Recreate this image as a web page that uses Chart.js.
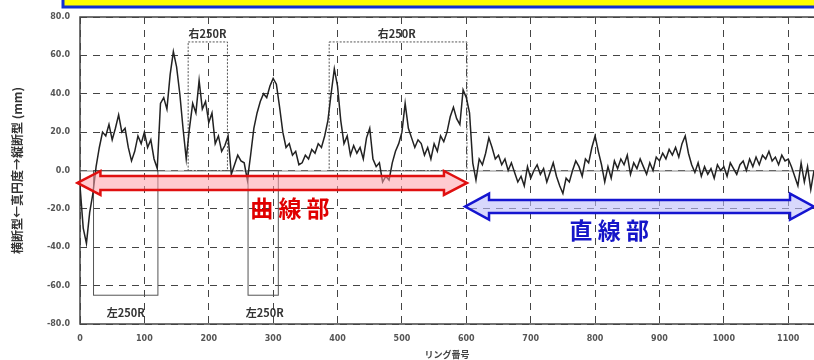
<!DOCTYPE html>
<html><head><meta charset="utf-8">
<script src="https://cdn.jsdelivr.net/npm/chart.js@4/dist/chart.umd.min.js"></script>
<style>html,body{margin:0;padding:0;background:#fff}#wrap{width:814px;height:360px;position:relative}</style>
</head><body><div id="wrap"><canvas id="c" width="814" height="360"></canvas></div>
<script>
const ringNo = [0,5,10,15,20,25,30,35,40,45,50,55,60,65,70,75,80,85,90,95,100,105,110,115,120,125,130,135,140,145,150,155,160,165,170,175,180,185,190,195,200,205,210,215,220,225,230,235,240,245,250,255,260,265,270,275,280,285,290,295,300,305,310,315,320,325,330,335,340,345,350,355,360,365,370,375,380,385,390,395,400,405,410,415,420,425,430,435,440,445,450,455,460,465,470,475,480,485,490,495,500,505,510,515,520,525,530,535,540,545,550,555,560,565,570,575,580,585,590,595,600,605,610,615,620,625,630,635,640,645,650,655,660,665,670,675,680,685,690,695,700,705,710,715,720,725,730,735,740,745,750,755,760,765,770,775,780,785,790,795,800,805,810,815,820,825,830,835,840,845,850,855,860,865,870,875,880,885,890,895,900,905,910,915,920,925,930,935,940,945,950,955,960,965,970,975,980,985,990,995,1000,1005,1010,1015,1020,1025,1030,1035,1040,1045,1050,1055,1060,1065,1070,1075,1080,1085,1090,1095,1100,1105,1110,1115,1120,1125,1130,1135,1140];
const roundness = [-8,-30,-38,-22,-12,2,12,20,18,24,16,22,29,20,22,12,5,10,18,14,20,12,16,6,1,35,38,32,50,62,54,40,22,6,22,35,30,47,32,36,25,30,14,18,10,13,18,-2,3,8,5,4,-5,8,22,30,36,40,38,44,48,45,33,20,12,14,8,10,3,4,8,6,11,9,14,12,18,26,40,53,44,26,14,18,8,13,9,12,6,17,22,6,2,4,-6,-3,-5,4,10,14,20,35,22,17,12,16,14,8,12,6,14,10,18,15,20,28,33,27,24,42,38,30,4,-5,6,3,9,17,12,6,8,3,6,0,4,-1,-6,-3,-8,2,-4,0,3,-2,1,-6,-1,4,-3,-8,-12,-4,-6,0,5,2,-3,6,4,12,18,10,3,-6,2,-4,5,1,6,3,8,-2,4,1,6,2,-2,4,0,7,5,9,6,11,8,12,7,14,18,9,3,-1,4,-3,2,-2,1,-4,3,0,2,-3,4,1,-2,3,5,0,6,2,7,3,8,6,10,5,7,3,8,5,6,2,-3,-8,4,-6,2,-10,0];
const yTicks = [-80,-60,-40,-20,0,20,40,60,80];
const xTicks = [0,100,200,300,400,500,600,700,800,900,1000,1100];
const yTitle = '横断型←真円度→縦断型 (mm)';
const xTitle = 'リング番号';
const curveLabel = '曲 線 部';
const straightLabel = '直 線 部';
const rightLabel = '右250R';
const leftLabel = '左250R';

const points = ringNo.map((r,i)=>({x:r,y:roundness[i]}));

const decor = {
  id:'decor',
  beforeDraw(chart){
    const ctx = chart.ctx;
    ctx.save();
    ctx.fillStyle='#ffff00';
    ctx.fillRect(63,-5,760,12);
    ctx.strokeStyle='#1030d0';
    ctx.lineWidth=3;
    ctx.strokeRect(63,-5,760,12);
    ctx.restore();
  },
  beforeDatasetsDraw(chart){
    const ctx=chart.ctx, xs=chart.scales.x, ys=chart.scales.y, a=chart.chartArea;
    ctx.save();
    ctx.strokeStyle='#888'; ctx.lineWidth=1;
    ctx.beginPath(); ctx.moveTo(a.left,ys.getPixelForValue(0)+0.5); ctx.lineTo(a.right,ys.getPixelForValue(0)+0.5); ctx.stroke();
    ctx.strokeStyle='#444'; ctx.lineWidth=1.5;
    ctx.beginPath();
    ctx.moveTo(a.right+2,a.top); ctx.lineTo(a.left,a.top); ctx.lineTo(a.left,a.bottom); ctx.lineTo(a.right+2,a.bottom);
    ctx.stroke();
    ctx.strokeStyle='#555'; ctx.lineWidth=1;
    const box=(x1,x2,y1,y2,dash)=>{
      ctx.setLineDash(dash);
      ctx.strokeRect(xs.getPixelForValue(x1),ys.getPixelForValue(y1),xs.getPixelForValue(x2)-xs.getPixelForValue(x1),ys.getPixelForValue(y2)-ys.getPixelForValue(y1));
    };
    box(168,229,67,0,[2,1.5]);
    box(387,601,67,0,[2,1.5]);
    box(21,121,0,-65,[]);
    box(261,308,0,-65,[]);
    ctx.setLineDash([]);
    ctx.fillStyle='#333';
    ctx.font='bold 11px "Noto Sans CJK JP"';
    ctx.textAlign='center'; ctx.textBaseline='middle';
    ctx.fillText(rightLabel,xs.getPixelForValue(198),ys.getPixelForValue(71));
    ctx.fillText(rightLabel,xs.getPixelForValue(492),ys.getPixelForValue(71));
    ctx.fillText(leftLabel,xs.getPixelForValue(71),ys.getPixelForValue(-74));
    ctx.fillText(leftLabel,xs.getPixelForValue(287),ys.getPixelForValue(-74));
    ctx.restore();
  },
  afterDatasetsDraw(chart){
    const ctx=chart.ctx, xs=chart.scales.x, ys=chart.scales.y;
    const arrow=(v1,v2,yv,sh,hh,hl,fill,stroke)=>{
      const x1=xs.getPixelForValue(v1), x2=xs.getPixelForValue(v2), yc=ys.getPixelForValue(yv);
      ctx.beginPath();
      ctx.moveTo(x1,yc); ctx.lineTo(x1+hl,yc-hh); ctx.lineTo(x1+hl,yc-sh); ctx.lineTo(x2-hl,yc-sh);
      ctx.lineTo(x2-hl,yc-hh); ctx.lineTo(x2,yc); ctx.lineTo(x2-hl,yc+hh); ctx.lineTo(x2-hl,yc+sh);
      ctx.lineTo(x1+hl,yc+sh); ctx.lineTo(x1+hl,yc+hh); ctx.closePath();
      ctx.fillStyle=fill; ctx.fill();
      ctx.strokeStyle=stroke; ctx.lineWidth=2.5; ctx.lineJoin='miter'; ctx.stroke();
    };
    ctx.save();
    arrow(-4,601,-6.5,7,12,23,'rgba(255,160,170,0.55)','#e01010');
    arrow(598,1140,-18.8,6.5,13,24,'rgba(190,190,250,0.6)','#1515d0');
    ctx.textAlign='center'; ctx.textBaseline='middle';
    ctx.font='bold 23px "Noto Sans CJK JP"';
    ctx.fillStyle='#e00000';
    ctx.fillText(curveLabel,xs.getPixelForValue(326),ys.getPixelForValue(-19.5));
    ctx.fillStyle='#1515c8';
    ctx.fillText(straightLabel,xs.getPixelForValue(822),ys.getPixelForValue(-31));
    ctx.restore();
  }
};

new Chart(document.getElementById('c'),{
  type:'line',
  data:{datasets:[{data:points,borderColor:'#222',borderWidth:1.5,pointRadius:0,tension:0,fill:false}]},
  options:{
    responsive:false,animation:false,
    layout:{padding:{top:17,right:0,left:0,bottom:0}},
    plugins:{legend:{display:false},tooltip:{enabled:false}},
    scales:{
      x:{type:'linear',min:0,max:1140,
        afterBuildTicks:(s)=>{s.ticks=xTicks.map(v=>({value:v}));},
        afterFit:(s)=>{s.height=36;},
        grid:{color:'#444',lineWidth:1,drawTicks:false},
        border:{display:false,dash:[7,6]},
        ticks:{padding:10,maxRotation:0,color:'#555',font:{family:'"DejaVu Sans"',size:8,weight:'bold'},callback:(v)=>String(v)},
        title:{display:true,text:xTitle,color:'#444',padding:{top:0,bottom:0},font:{family:'"Noto Sans CJK JP"',size:9,weight:'bold'}}
      },
      y:{type:'linear',min:-80,max:80,
        afterBuildTicks:(s)=>{s.ticks=yTicks.map(v=>({value:v}));},
        afterFit:(s)=>{s.width=80;},
        grid:{color:'#444',lineWidth:1,drawTicks:false},
        border:{display:false,dash:[7,6]},
        ticks:{padding:10,color:'#555',font:{family:'"DejaVu Sans"',size:8,weight:'bold'},callback:(v)=>v.toFixed(1)},
        title:{display:true,text:yTitle,color:'#333',padding:{top:10,bottom:0},font:{family:'"Noto Sans CJK JP"',size:12,weight:'bold'}}
      }
    }
  },
  plugins:[decor]
});
</script></body></html>
